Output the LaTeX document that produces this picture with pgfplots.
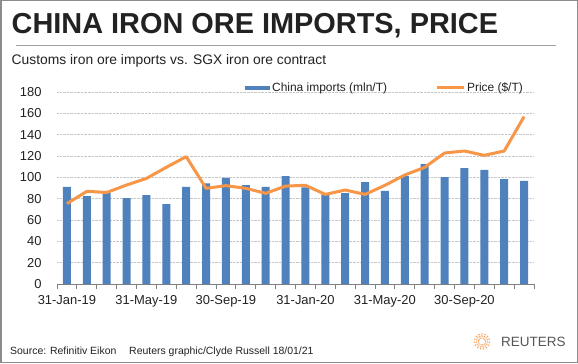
\documentclass[border=0pt]{standalone}
\usepackage{pgfplots}
\pgfplotsset{compat=1.18}
\usepackage{fontspec}
\setmainfont{Liberation Sans}
\definecolor{barblue}{HTML}{4F81BD}
\definecolor{lineorange}{HTML}{F79646}
\definecolor{framegray}{HTML}{8C8C8C}
\definecolor{rulegray}{HTML}{A0A0A0}
\definecolor{textgray}{HTML}{222222}
\definecolor{logogray}{HTML}{555555}
\newcommand{\legfont}{\fontsize{12}{14}\selectfont}
\begin{document}
\begin{tikzpicture}[x=1bp,y=1bp]
% canvas and frame
\fill[white] (0,0) rectangle (578,363);
\draw[framegray, line width=1.5bp] (0.75,0.75) rectangle (577.25,362.25);
% title
\node[anchor=base west, inner sep=0pt, text=textgray,
  font=\fontsize{29}{32}\selectfont\bfseries] at (11.5,363-33.5) {CHINA IRON ORE IMPORTS, PRICE};
\draw[rulegray, line width=1bp] (16,363-45) -- (556,363-45);
\node[anchor=base west, inner sep=0pt, text=textgray,
  font=\fontsize{13.9}{15}\selectfont] at (11.5,363-64) {Customs iron ore imports vs. SGX iron ore contract};
\begin{axis}[
  at={(57bp,79bp)}, anchor=south west,
  scale only axis, width=477bp, height=192bp,
  xmin=-0.5, xmax=23.5, ymin=0, ymax=180,
  clip=false,
  axis x line*=bottom, axis y line*=left,
  x axis line style={draw=gray, line width=0.8bp, -},
  y axis line style={draw=none},
  xtick={-0.5,0.5,...,23.5}, xticklabels={},
  tick align=outside,
  x tick style={draw=gray, line width=0.8bp},
  major tick length=5bp,
  extra x ticks={0,4,8,12,16,20},
  extra x tick labels={31-Jan-19,31-May-19,30-Sep-19,31-Jan-20,31-May-20,30-Sep-20},
  extra x tick style={major tick length=0pt, tick style={draw=none},
    xticklabel style={anchor=base, yshift=-20bp}},
  ytick={0,20,...,180},
  y tick style={draw=none},
  yticklabel style={anchor=east, xshift=-7bp},
  ymajorgrids,
  grid style={densely dotted, gray!45, line width=0.6bp},
  tick label style={font=\fontsize{13}{15}\selectfont, text=textgray},
  /pgf/number format/assume math mode=true,
  legend columns=2,
  legend style={draw=none, fill=none, at={(axis description cs:0.394,1.021)}, anchor=west,
    inner sep=0pt,
    nodes={inner xsep=2bp, inner ysep=1bp, font=\legfont, text=textgray},
    /tikz/every even column/.append style={column sep=46bp}},
]
\addplot[ybar, bar width=8bp, fill=barblue, draw=none,
  legend image code/.code={\fill[barblue] (0bp,-2.2bp) rectangle (25bp,2.2bp);}]
  coordinates {
  (0,91) (1,82.5) (2,85.3) (3,80.6) (4,83.4) (5,75) (6,91) (7,94.4)
  (8,99.4) (9,92.8) (10,91) (11,101.2) (12,90.6) (13,84) (14,85.3) (15,95.6)
  (16,87.2) (17,101.2) (18,112.5) (19,100.3) (20,108.7) (21,106.9) (22,98.4) (23,96.6)
  };
\addlegendentry{\legfont China imports (mln/T)}
\addplot[lineorange, line width=3bp, line join=round, no marks,
  legend image code/.code={\draw[lineorange, line width=3bp] (0bp,0bp) -- (27bp,0bp);}]
  coordinates {
  (0,75.3) (1,86.9) (2,85.8) (3,92.8) (4,99) (5,109.4) (6,119.4) (7,89.7)
  (8,92.2) (9,89.7) (10,85) (11,91.8) (12,92.5) (13,84) (14,88.1) (15,84)
  (16,92.5) (17,102.2) (18,109.4) (19,122.8) (20,124.7) (21,120.6) (22,124.7) (23,156.9)
  };
\addlegendentry{\legfont Price (\$/T)}
\end{axis}
% footer
\node[anchor=base west, inner sep=0pt, text=textgray, font=\fontsize{10.5}{12}\selectfont]
  at (10,363-354) {Source: Refinitiv Eikon};
\node[anchor=base west, inner sep=0pt, text=textgray, font=\fontsize{10.5}{12}\selectfont]
  at (129,363-354) {Reuters graphic/Clyde Russell 18/01/21};
% logo
\foreach \a in {0,24,...,336} {
  \foreach \r/\s in {3.5/0.7,5.5/0.8,7.5/0.9} {
    \fill[lineorange!85] ({482+\r*cos(\a+\r*12)},{363-341.5+\r*sin(\a+\r*12)}) circle (\s);
  }
}
\node[anchor=west, inner sep=0pt, text=logogray, font=\fontsize{13.5}{15}\selectfont]
  at (501,363-341.5) {REUTERS};
\end{tikzpicture}
\end{document}
